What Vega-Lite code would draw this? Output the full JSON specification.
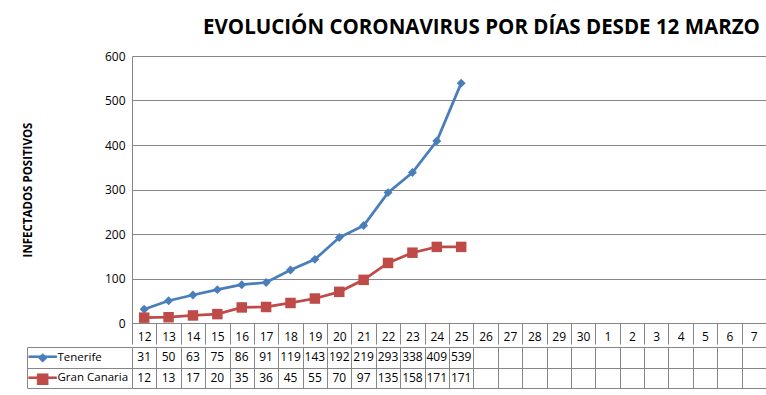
{
  "$schema": "https://vega.github.io/schema/vega-lite/v6.json",
  "background": "white",
  "padding": {"left": 22, "top": 17, "right": 0, "bottom": 0},
  "title": {"text": "EVOLUCIÓN CORONAVIRUS POR DÍAS DESDE 12 MARZO", "font": "Open Sans", "fontSize": 20.5, "fontWeight": "bold", "color": "black", "anchor": "middle", "dx": 87, "offset": 12},
  "config": {"font": "Open Sans", "view": {"stroke": null}},
  "spacing": -4,
  "datasets": {
    "series": [
      {"dia": "12", "serie": "Tenerife", "valor": 31},
      {"dia": "13", "serie": "Tenerife", "valor": 50},
      {"dia": "14", "serie": "Tenerife", "valor": 63},
      {"dia": "15", "serie": "Tenerife", "valor": 75},
      {"dia": "16", "serie": "Tenerife", "valor": 86},
      {"dia": "17", "serie": "Tenerife", "valor": 91},
      {"dia": "18", "serie": "Tenerife", "valor": 119},
      {"dia": "19", "serie": "Tenerife", "valor": 143},
      {"dia": "20", "serie": "Tenerife", "valor": 192},
      {"dia": "21", "serie": "Tenerife", "valor": 219},
      {"dia": "22", "serie": "Tenerife", "valor": 293},
      {"dia": "23", "serie": "Tenerife", "valor": 338},
      {"dia": "24", "serie": "Tenerife", "valor": 409},
      {"dia": "25", "serie": "Tenerife", "valor": 539},
      {"dia": "12", "serie": "Gran Canaria", "valor": 12},
      {"dia": "13", "serie": "Gran Canaria", "valor": 13},
      {"dia": "14", "serie": "Gran Canaria", "valor": 17},
      {"dia": "15", "serie": "Gran Canaria", "valor": 20},
      {"dia": "16", "serie": "Gran Canaria", "valor": 35},
      {"dia": "17", "serie": "Gran Canaria", "valor": 36},
      {"dia": "18", "serie": "Gran Canaria", "valor": 45},
      {"dia": "19", "serie": "Gran Canaria", "valor": 55},
      {"dia": "20", "serie": "Gran Canaria", "valor": 70},
      {"dia": "21", "serie": "Gran Canaria", "valor": 97},
      {"dia": "22", "serie": "Gran Canaria", "valor": 135},
      {"dia": "23", "serie": "Gran Canaria", "valor": 158},
      {"dia": "24", "serie": "Gran Canaria", "valor": 171},
      {"dia": "25", "serie": "Gran Canaria", "valor": 171}
    ]
  },
  "vconcat": [
    {
      "width": 634,
      "height": 267,
      "data": {"name": "series"},
      "encoding": {
        "x": {
          "field": "dia", "type": "ordinal",
          "scale": {"domain": ["12","13","14","15","16","17","18","19","20","21","22","23","24","25","26","27","28","29","30","1","2","3","4","5","6","7"], "paddingInner": 0, "paddingOuter": 0},
          "axis": {"title": null, "tickBand": "extent", "tickSize": 21, "tickColor": "#868686", "domainColor": "#868686", "labelAngle": 0, "labelPadding": -8, "labelBaseline": "middle", "labelFontSize": 12, "labelColor": "black", "grid": false}
        },
        "y": {
          "field": "valor", "type": "quantitative",
          "scale": {"domain": [0, 600], "nice": false},
          "axis": {"title": "INFECTADOS POSITIVOS", "titleFontSize": 11.5, "titleFontWeight": "bold", "titleColor": "black", "titlePadding": 71, "values": [0,100,200,300,400,500,600], "ticks": false, "domainColor": "#868686", "gridColor": "#868686", "labelPadding": 7, "labelFontSize": 12, "labelColor": "black"}
        },
        "color": {"field": "serie", "type": "nominal", "scale": {"domain": ["Tenerife", "Gran Canaria"], "range": ["#4A7EBB", "#BE4B48"]}, "legend": null}
      },
      "layer": [
        {"mark": {"type": "line", "strokeWidth": 2.75}},
        {"transform": [{"filter": "datum.serie === 'Tenerife'"}], "mark": {"type": "point", "shape": "diamond", "filled": true, "opacity": 1, "size": 80}},
        {"transform": [{"filter": "datum.serie === 'Gran Canaria'"}], "mark": {"type": "point", "shape": "square", "filled": true, "opacity": 1, "size": 110}}
      ]
    },
    {
      "width": 634,
      "height": 41,
      "data": {"name": "series"},
      "encoding": {
        "x": {
          "field": "dia", "type": "ordinal",
          "scale": {"domain": ["12","13","14","15","16","17","18","19","20","21","22","23","24","25","26","27","28","29","30","1","2","3","4","5","6","7"], "paddingInner": 0, "paddingOuter": 0},
          "axis": {"title": null, "labels": false, "ticks": false, "domain": false, "grid": true, "tickBand": "extent", "gridColor": "#868686"}
        }
      },
      "layer": [
        {
          "mark": {"type": "text", "fontSize": 12, "color": "black"},
          "encoding": {
            "text": {"field": "valor"},
            "y": {"field": "serie", "type": "nominal", "sort": ["Tenerife", "Gran Canaria"], "scale": {"paddingInner": 0, "paddingOuter": 0},
              "axis": {"title": null, "orient": "left", "tickBand": "extent", "tickSize": 105, "tickColor": "#868686", "grid": true, "gridColor": "#868686", "domain": false, "labelAlign": "left", "labelPadding": -30, "labelFontSize": 11.5, "labelColor": "black", "labelBaseline": "middle"}}
          }
        },
        {
          "mark": {"type": "text", "opacity": 0, "text": ""},
          "encoding": {
            "y": {"field": "serie", "type": "nominal", "sort": ["Tenerife", "Gran Canaria"],
              "axis": {"title": null, "orient": "left", "offset": 105, "domain": true, "domainColor": "#868686", "ticks": false, "tickSize": 0, "grid": false, "labelAlign": "left", "labelPadding": -1, "labelBaseline": "middle", "labelExpr": "'━━━'", "labelFont": "DejaVu Sans", "labelFontSize": 15.5,
                "labelColor": {"condition": {"test": "datum.value === 'Tenerife'", "value": "#4A7EBB"}, "value": "#BE4B48"}}}
          }
        },
        {
          "mark": {"type": "text", "opacity": 0, "text": ""},
          "encoding": {
            "y": {"field": "serie", "type": "nominal", "sort": ["Tenerife", "Gran Canaria"],
              "axis": {"title": null, "orient": "left", "offset": 105, "domain": false, "ticks": false, "tickSize": 0, "grid": false, "labelAlign": "center", "labelPadding": -15, "labelBaseline": "middle", "labelExpr": "datum.value === 'Tenerife' ? '◆' : '■'", "labelFont": "DejaVu Sans",
                "labelFontSize": {"condition": {"test": "datum.value === 'Tenerife'", "value": 12}, "value": 15},
                "labelColor": {"condition": {"test": "datum.value === 'Tenerife'", "value": "#4A7EBB"}, "value": "#BE4B48"}}}
          }
        }
      ],
      "resolve": {"axis": {"y": "independent"}}
    }
  ]
}
